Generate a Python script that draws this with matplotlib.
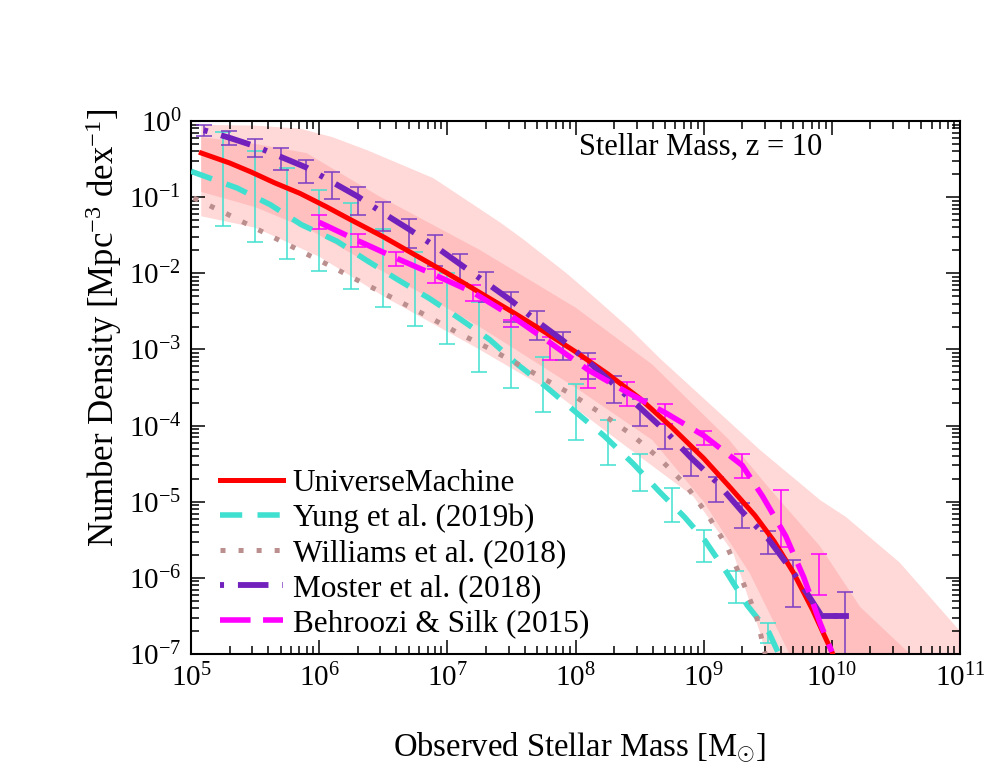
import numpy as np
import matplotlib
matplotlib.use("Agg")
import matplotlib.pyplot as plt

plt.rcParams["font.family"] = ["Liberation Serif", "DejaVu Serif"]
plt.rcParams["mathtext.fontset"] = "custom"
plt.rcParams["mathtext.rm"] = "Liberation Serif"
plt.rcParams["mathtext.it"] = "Liberation Serif:italic"
plt.rcParams["lines.scale_dashes"] = False

# ---------------- data: log10(M*) and log10(number density) ----------------
# UniverseMachine median
um_logm = [5.08, 5.30, 5.47, 5.65, 5.85, 6.05, 6.25, 6.50, 6.75, 7.00, 7.25, 7.50, 7.75, 8.00,
           8.25, 8.50, 8.75, 9.00, 9.20, 9.40, 9.55, 9.70, 9.85, 10.0, 10.03]
um_logphi = [-0.42, -0.55, -0.67, -0.81, -0.95, -1.12, -1.30, -1.52, -1.76, -2.00, -2.25, -2.50, -2.76, -3.03,
             -3.32, -3.64, -4.02, -4.43, -4.80, -5.18, -5.52, -5.93, -6.42, -6.97, -7.10]

# UniverseMachine outer (light) band
outer_hi_logm = [5.08, 5.50, 5.85, 6.10, 6.37, 6.89, 7.07, 7.41, 7.59, 7.93, 8.11, 8.42, 8.66, 9.44, 9.91, 10.11, 10.53, 11.0, 11.2]
outer_hi_logphi = [-0.05, -0.06, -0.10, -0.21, -0.38, -0.75, -0.95, -1.33, -1.55, -2.00, -2.26, -2.72, -3.12, -4.32, -4.98, -5.20, -5.80, -6.70, -7.00]
outer_lo_logm = [5.08, 5.50, 6.00, 6.50, 7.25, 7.88, 8.40, 8.92, 9.23, 9.44, 9.50, 11.2]
outer_lo_logphi = [-1.25, -1.40, -1.78, -2.30, -3.00, -3.62, -4.28, -4.93, -5.67, -6.72, -7.10, -7.30]

# UniverseMachine inner (dark) band
inner_hi_logm = [5.08, 5.50, 5.90, 6.47, 7.25, 8.00, 8.60, 9.20, 9.50, 9.91, 10.22, 10.61, 10.70]
inner_hi_logphi = [-0.21, -0.30, -0.42, -0.99, -1.69, -2.45, -3.20, -4.19, -4.80, -5.59, -6.38, -7.00, -7.20]
inner_lo_logm = [5.08, 5.50, 5.93, 6.47, 7.25, 8.00, 8.60, 9.00, 9.36, 9.67, 9.72]
inner_lo_logphi = [-0.93, -1.13, -1.43, -1.95, -2.70, -3.50, -4.19, -5.00, -5.94, -7.00, -7.20]

# Yung et al. (2019b)
yung_logm = [5.0, 5.36, 5.62, 5.86, 6.14, 6.37, 6.61, 6.86, 7.10, 7.33, 7.55, 7.77, 8.0, 8.22, 8.45, 8.65, 8.85, 9.01, 9.18, 9.34, 9.51, 9.60]
yung_logphi = [-0.66, -0.88, -1.10, -1.36, -1.58, -1.83, -2.08, -2.33, -2.60, -2.87, -3.20, -3.49, -3.82, -4.13, -4.50, -4.86, -5.20, -5.51, -5.93, -6.36, -6.72, -7.05]
yung_bar_logm = [5.25, 5.5, 5.75, 6.0, 6.25, 6.5, 6.75, 7.0, 7.25, 7.5, 7.75, 8.0, 8.25, 8.5, 8.75, 9.0, 9.25, 9.5]
yung_bar_hi = [-0.145, -0.39, -0.62, -0.91, -1.07, -1.42, -1.72, -2.00, -2.37, -2.70, -3.10, -3.45, -3.92, -4.37, -4.82, -5.37, -5.91, -6.59]
yung_bar_lo = [-1.375, -1.585, -1.81, -1.97, -2.20, -2.44, -2.69, -2.93, -3.30, -3.50, -3.82, -4.19, -4.52, -4.86, -5.26, -5.79, -6.33, -6.85]

# Williams et al. (2018)
will_logm = [5.02, 5.28, 5.54, 5.80, 6.06, 6.31, 6.57, 6.83, 7.08, 7.33, 7.59, 7.97, 8.21, 8.44, 8.66, 8.86, 9.03, 9.18, 9.30, 9.41, 9.48]
will_logphi = [-1.01, -1.22, -1.44, -1.66, -1.88, -2.10, -2.32, -2.55, -2.78, -2.99, -3.23, -3.59, -3.85, -4.12, -4.44, -4.78, -5.17, -5.58, -6.03, -6.49, -7.00]

# Moster et al. (2018)
most_logm = [5.1, 5.3, 5.5, 5.7, 5.9, 6.1, 6.3, 6.5, 6.7, 6.9, 7.1, 7.3, 7.5, 7.7, 7.9, 8.1, 8.3, 8.5, 8.7, 8.9, 9.1, 9.3, 9.5, 9.7, 9.84, 9.92, 10.11]
most_logphi = [-0.12, -0.22, -0.33, -0.47, -0.61, -0.80, -0.99, -1.21, -1.42, -1.64, -1.88, -2.12, -2.36, -2.63, -2.88, -3.16, -3.46, -3.76, -4.07, -4.42, -4.74, -5.13, -5.48, -5.93, -6.29, -6.50, -6.50]
most_bar_logm = [5.1, 5.3, 5.5, 5.7, 5.9, 6.1, 6.3, 6.5, 6.7, 6.9, 7.1, 7.3, 7.5, 7.7, 7.9, 8.1, 8.3, 8.5, 8.7, 8.9, 9.1, 9.3, 9.5, 9.7, 10.1]
most_bar_hi = [-0.05, -0.13, -0.23, -0.35, -0.51, -0.67, -0.86, -1.06, -1.28, -1.50, -1.74, -1.98, -2.24, -2.50, -2.77, -3.05, -3.35, -3.65, -3.98, -4.31, -4.68, -5.02, -5.39, -5.77, -6.19]
most_bar_lo = [-0.20, -0.31, -0.47, -0.64, -0.82, -1.02, -1.23, -1.45, -1.67, -1.90, -2.13, -2.37, -2.64, -2.88, -3.14, -3.39, -3.70, -4.00, -4.31, -4.66, -5.00, -5.35, -5.68, -6.38, -8.00]

# Behroozi & Silk (2015)
bs_logm = [6.0, 6.3, 6.6, 6.9, 7.2, 7.5, 7.8, 8.1, 8.4, 8.7, 9.0, 9.3, 9.46, 9.64, 9.78, 9.91, 10.0]
bs_logphi = [-1.33, -1.57, -1.80, -2.02, -2.25, -2.56, -2.91, -3.27, -3.56, -3.83, -4.13, -4.52, -4.93, -5.45, -5.99, -6.60, -6.97]
bs_bar_logm = [6.0, 6.3, 6.6, 6.9, 7.2, 7.5, 7.8, 8.1, 8.4, 8.7, 9.0, 9.3, 9.6, 9.9]
bs_bar_hi = [-1.23, -1.49, -1.72, -1.94, -2.15, -2.61, -2.83, -3.12, -3.43, -3.72, -4.07, -4.37, -4.85, -5.68]
bs_bar_lo = [-1.42, -1.66, -1.90, -2.13, -2.36, -2.70, -3.14, -3.50, -3.74, -3.98, -4.26, -4.69, -5.60, -6.23]

xticks = [1e5, 1e6, 1e7, 1e8, 1e9, 1e10, 1e11]
yticks = [1e-7, 1e-6, 1e-5, 1e-4, 1e-3, 1e-2, 1e-1, 1e0]


def p(v):
    return 10.0 ** np.array(v)


fig = plt.figure(figsize=(9.97, 7.70), dpi=100)
ax = fig.add_axes([0.1916, 0.1506, 0.7713, 0.6922])

# bands
ax.fill(np.concatenate([p(outer_hi_logm), p(outer_lo_logm)[::-1]]),
        np.concatenate([p(outer_hi_logphi), p(outer_lo_logphi)[::-1]]),
        color="#ffd8d8", lw=0, zorder=1)
ax.fill(np.concatenate([p(inner_hi_logm), p(inner_lo_logm)[::-1]]),
        np.concatenate([p(inner_hi_logphi), p(inner_lo_logphi)[::-1]]),
        color="#ffbfbf", lw=0, zorder=1)


def bars(logm, hi, lo, color):
    top = p(hi)
    bot = p(lo)
    mid = np.sqrt(top * bot)
    ax.errorbar(p(logm), mid, yerr=[mid - bot, top - mid], fmt="none",
                ecolor=color, elinewidth=1.1, capsize=5.8, capthick=1.1, zorder=2)


bars(yung_bar_logm, yung_bar_hi, yung_bar_lo, "#40e0d0")
bars(most_bar_logm, most_bar_hi, most_bar_lo, "#7a3cc4")
bars(bs_bar_logm, bs_bar_hi, bs_bar_lo, "#ff00ff")

ax.plot(p(um_logm), p(um_logphi), color="#ff0000", lw=3.6, zorder=3,
        label="UniverseMachine")
ax.plot(p(yung_logm), p(yung_logphi), color="#40e0d0", lw=4.0, zorder=4,
        ls=(0, (16, 11)), label="Yung et al. (2019b)")
ax.plot(p(will_logm), p(will_logphi), color="#bc8f8f", lw=3.6, zorder=4,
        ls=(0, (3.6, 9.4)), label="Williams et al. (2018)")
ax.plot(p(most_logm), p(most_logphi), color="#7221bc", lw=4.2, zorder=4,
        ls=(0, (2.9, 10, 22, 10)), label="Moster et al. (2018)")
# last flat step of the Moster curve is drawn solid in the original
ax.plot(p(most_logm[-2:]), p(most_logphi[-2:]), color="#7221bc", lw=4.2, zorder=4)
ax.plot(p(bs_logm), p(bs_logphi), color="#ff00ff", lw=4.0, zorder=4,
        ls=(0, (22, 9)), label="Behroozi & Silk (2015)")

ax.set_xscale("log")
ax.set_yscale("log")
ax.set_xlim(1e5, 1e11)
ax.set_ylim(1e-7, 1e0)
ax.set_xticks(xticks)
ax.set_yticks(yticks)

ax.tick_params(which="both", direction="in", top=True, right=True, width=1.1)
ax.tick_params(which="major", length=10, labelsize=21, pad=7)
ax.tick_params(which="minor", length=5.5)
for s in ax.spines.values():
    s.set_linewidth(1.5)

ax.set_xlabel(r"Observed Stellar Mass [M$_{\odot}$]", fontsize=23.5)
ax.set_ylabel(r"Number Density [Mpc$^{-3}$ dex$^{-1}$]", fontsize=25)
ax.xaxis.set_label_coords(0.505, -0.143)
ax.yaxis.set_label_coords(-0.087, 0.613)

ax.text(0.8205, 0.951, "Stellar Mass, z = 10", transform=ax.transAxes,
        ha="right", va="center", fontsize=22)

ax.legend(loc="lower left", bbox_to_anchor=(0.0377, 0.03), frameon=False,
          fontsize=22.5, borderpad=0, borderaxespad=0, handlelength=2.0,
          handletextpad=0.33, labelspacing=0.19)

plt.savefig("out.png", dpi=100)
